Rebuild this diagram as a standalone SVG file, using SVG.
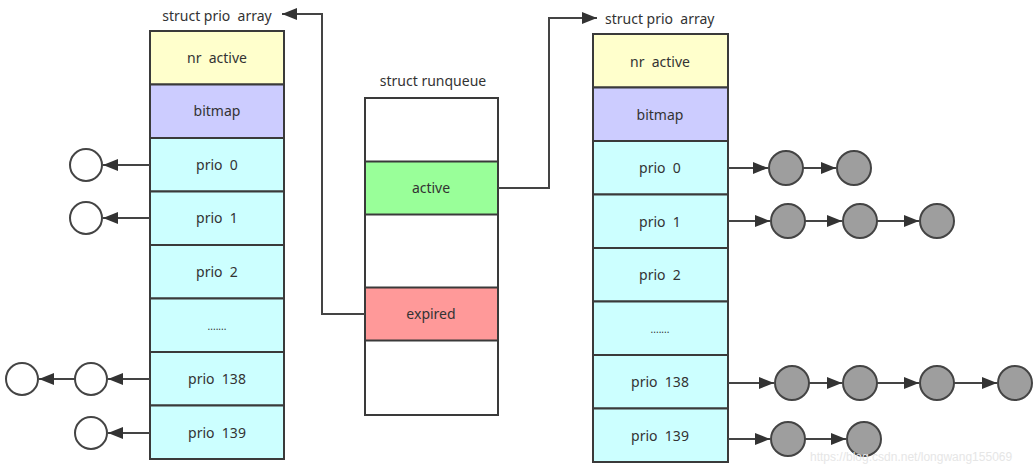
<svg xmlns="http://www.w3.org/2000/svg" width="1035" height="464" viewBox="0 0 1035 464">
<defs>
<marker id="ah" markerUnits="userSpaceOnUse" markerWidth="16" markerHeight="12" refX="15" refY="6" orient="auto"><path d="M0,0 L15,6 L0,12 Z" fill="#333"/></marker>
<style>
.cell{stroke:#3a3a3a;stroke-width:2}
.t{font-family:"Noto Sans","Open Sans",sans-serif;font-size:14px;fill:#333;text-anchor:middle;white-space:pre}
.title{font-family:"Noto Sans","Open Sans",sans-serif;font-size:14px;fill:#333;white-space:pre}
.c{stroke:#444;stroke-width:2;fill:none;marker-end:url(#ah)}
.wn{fill:#fff;stroke:#444;stroke-width:2}
.gn{fill:#9e9e9e;stroke:#444;stroke-width:2}
.nr{fill:#ffffcc}.bm{fill:#ccccff}.pr{fill:#ccffff}.ac{fill:#99ff99}.ex{fill:#ff9999}.em{fill:#fff}
</style>
</defs>
<rect width="1035" height="464" fill="#fff"/>

<g id="left-array">
<text class="t" x="217" y="21" xml:space="preserve">struct prio  array</text>
<rect class="cell nr" x="150" y="31" width="134" height="53.5"/>
<rect class="cell bm" x="150" y="84.5" width="134" height="53.5"/>
<rect class="cell pr" x="150" y="138" width="134" height="53.5"/>
<rect class="cell pr" x="150" y="191.5" width="134" height="53.5"/>
<rect class="cell pr" x="150" y="245" width="134" height="53.5"/>
<rect class="cell pr" x="150" y="298.5" width="134" height="53.5"/>
<rect class="cell pr" x="150" y="352" width="134" height="53.5"/>
<rect class="cell pr" x="150" y="405.5" width="134" height="53.5"/>
<text class="t" x="217" y="63" xml:space="preserve">nr  active</text>
<text class="t" x="217" y="116">bitmap</text>
<text class="t" x="217" y="170" xml:space="preserve">prio  0</text>
<text class="t" x="217" y="223" xml:space="preserve">prio  1</text>
<text class="t" x="217" y="277" xml:space="preserve">prio  2</text>
<text class="t" x="217" y="330" style="font-size:10px">.......</text>
<text class="t" x="217" y="384" xml:space="preserve">prio  138</text>
<text class="t" x="217" y="438" xml:space="preserve">prio  139</text>
</g>

<g id="runqueue">
<text class="t" x="433" y="86">struct runqueue</text>
<rect class="cell em" x="365" y="98" width="133" height="317"/>
<rect class="cell ac" x="365" y="161.5" width="133" height="53"/>
<rect class="cell ex" x="365" y="287.5" width="133" height="53"/>
<text class="t" x="431" y="193">active</text>
<text class="t" x="431" y="319">expired</text>
</g>

<g id="right-array">
<text class="title" x="605" y="24" xml:space="preserve">struct prio  array</text>
<rect class="cell nr" x="593" y="34" width="135" height="53.5"/>
<rect class="cell bm" x="593" y="87.5" width="135" height="53.5"/>
<rect class="cell pr" x="593" y="141" width="135" height="53.5"/>
<rect class="cell pr" x="593" y="194.5" width="135" height="53.5"/>
<rect class="cell pr" x="593" y="248" width="135" height="53.5"/>
<rect class="cell pr" x="593" y="301.5" width="135" height="53.5"/>
<rect class="cell pr" x="593" y="355" width="135" height="53.5"/>
<rect class="cell pr" x="593" y="408.5" width="135" height="53.5"/>
<text class="t" x="660" y="67" xml:space="preserve">nr  active</text>
<text class="t" x="660" y="120">bitmap</text>
<text class="t" x="660" y="173" xml:space="preserve">prio  0</text>
<text class="t" x="660" y="227" xml:space="preserve">prio  1</text>
<text class="t" x="660" y="280" xml:space="preserve">prio  2</text>
<text class="t" x="660" y="333" style="font-size:10px">.......</text>
<text class="t" x="660" y="387" xml:space="preserve">prio  138</text>
<text class="t" x="660" y="441" xml:space="preserve">prio  139</text>
</g>

<g id="left-tasks">
<circle class="wn" cx="86" cy="165" r="16"/>
<circle class="wn" cx="86" cy="218" r="16"/>
<circle class="wn" cx="91" cy="379" r="16"/>
<circle class="wn" cx="22" cy="379" r="16"/>
<circle class="wn" cx="91" cy="433" r="16"/>
</g>

<g id="right-tasks">
<circle class="gn" cx="786" cy="168" r="17"/>
<circle class="gn" cx="854" cy="168" r="17"/>
<circle class="gn" cx="788" cy="221" r="17"/>
<circle class="gn" cx="860" cy="221" r="17"/>
<circle class="gn" cx="937" cy="221" r="17"/>
<circle class="gn" cx="792" cy="383" r="17"/>
<circle class="gn" cx="860" cy="383" r="17"/>
<circle class="gn" cx="937" cy="383" r="17"/>
<circle class="gn" cx="1015" cy="383" r="17"/>
<circle class="gn" cx="788" cy="439" r="17"/>
<circle class="gn" cx="864" cy="439" r="17"/>
</g>

<g id="connectors">
<path class="c" d="M365,314 H322 V14 H282"/>
<path class="c" d="M498,188 H549 V18 H597"/>
<path class="c" d="M150,165 H103"/>
<path class="c" d="M150,218 H103"/>
<path class="c" d="M150,379 H108"/>
<path class="c" d="M75,379 H39"/>
<path class="c" d="M150,433 H108"/>
<path class="c" d="M728,168 H768"/>
<path class="c" d="M803,168 H836"/>
<path class="c" d="M728,221 H770"/>
<path class="c" d="M805,221 H842"/>
<path class="c" d="M877,221 H919"/>
<path class="c" d="M728,383 H774"/>
<path class="c" d="M809,383 H842"/>
<path class="c" d="M877,383 H919"/>
<path class="c" d="M954,383 H997"/>
<path class="c" d="M728,439 H770"/>
<path class="c" d="M805,439 H846"/>
</g>

<text x="810" y="461" style="font-family:'Liberation Sans',Arial,sans-serif;font-size:12px;fill:#e6e6e6">https://blog.csdn.net/longwang155069</text>
</svg>
